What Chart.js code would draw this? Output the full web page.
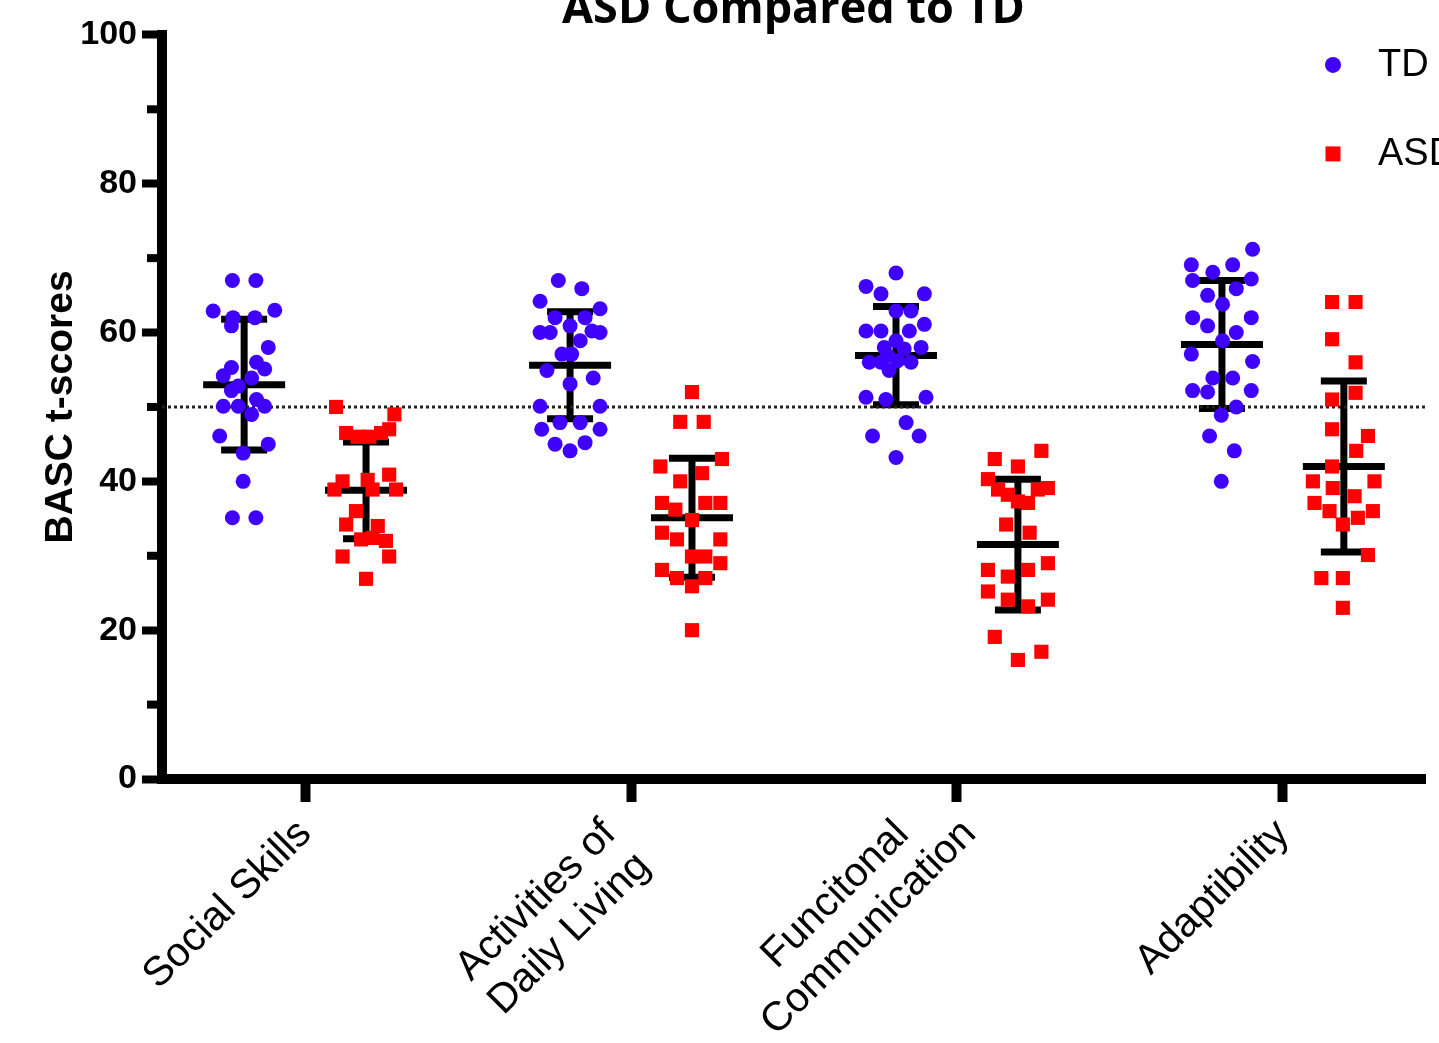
<!DOCTYPE html>
<html>
<head>
<meta charset="utf-8">
<title>ASD Compared to TD</title>
<script src="https://cdn.jsdelivr.net/npm/chart.js@4.4.1/dist/chart.umd.min.js"></script>
<style>
  html, body { margin: 0; padding: 0; background: #fff; overflow: hidden; }
  #wrap { position: absolute; left: 0; top: -21px; }
</style>
</head>
<body>
<div id="wrap"><canvas id="chart" width="1500" height="1100"></canvas></div>
<script>
// categories on the x axis (multi-line labels as arrays)
const categories = [
    ['Social Skills'],
    ['Activities of', 'Daily Living'],
    ['Funcitonal', 'Communication'],
    ['Adaptibility']
];
const yTicks = [0, 20, 40, 60, 80, 100];
const referenceLine = 50;

// individual t-scores per category, TD group
const tdScores = [
    [67, 67, 62.9, 63, 62, 62, 60.9, 58, 55.3, 56, 55.1, 54.2, 53.9, 52.8, 52.2, 50.1, 50.1, 51, 50.1, 49, 46.1, 45, 43.8, 40, 35.1, 35.1],
    [67, 65.9, 64.2, 63.2, 62, 62, 60.9, 60, 60, 60.2, 60, 58.9, 57.1, 57.1, 54.9, 53.9, 53.1, 50.1, 50.1, 47.9, 47.9, 47, 47, 45, 45.2, 44.1],
    [68, 66.2, 65.2, 65.2, 62.9, 62.9, 61.1, 60.2, 60.2, 60.2, 58.9, 58, 58, 57.8, 56.9, 56, 56, 56, 56.2, 54.9, 51.3, 51, 51.3, 47.9, 46.1, 46.1, 43.2],
    [71.2, 69.1, 69.1, 68.1, 67, 67.2, 65.9, 65, 63.8, 62, 62, 60.9, 60, 58.9, 57.1, 56.1, 53.9, 53.9, 52.2, 52, 52.2, 50, 48.9, 46.1, 44.1, 40]
];
// scatter spread of each TD point inside its column (category units)
const tdJitter = [
    [-0.036, 0.036, -0.095, 0.094, -0.034, 0.033, -0.039, 0.074, -0.039, 0.038, 0.063, -0.064, 0.023, -0.018, -0.039, -0.064, -0.018, 0.038, 0.063, 0.023, -0.075, 0.074, -0.003, -0.003, -0.036, 0.036],
    [-0.036, 0.036, -0.092, 0.092, -0.046, 0.046, 0, -0.092, -0.061, 0.067, 0.092, 0.031, -0.025, 0.005, -0.071, 0.071, 0, -0.092, 0.092, -0.031, 0.031, -0.087, 0.092, -0.046, 0.046, 0],
    [0, -0.092, -0.046, 0.087, 0, 0.046, 0.087, -0.092, -0.046, 0.041, 0, -0.036, 0.077, 0.025, -0.026, -0.082, -0.046, 0.046, 0.005, -0.021, -0.092, -0.031, 0.092, 0.031, -0.072, 0.071, 0],
    [0.094, -0.094, 0.033, -0.028, -0.090, 0.090, 0.044, -0.044, 0.002, -0.090, 0.090, -0.044, 0.044, 0.002, -0.094, 0.094, -0.028, 0.033, -0.090, -0.044, 0.090, 0.044, -0.002, -0.038, 0.038, -0.002]
];

// individual t-scores per category, ASD group
const asdScores = [
    [50, 49, 46.5, 46, 46, 46.5, 47, 40.9, 40, 40.2, 38.9, 38.9, 38.9, 36, 34.2, 34, 32.2, 32.4, 32, 29.9, 29.9, 26.9],
    [52, 48, 48, 42, 43, 41.1, 40, 37.1, 36.2, 37.1, 37.1, 34.8, 33.1, 32.2, 32.2, 29.9, 29.9, 29, 28.1, 27, 27, 25.9, 20],
    [44.1, 43, 42, 40.3, 38.9, 38.2, 37.3, 37.1, 39.1, 38.9, 34.2, 33.1, 28.1, 27.2, 28.1, 29, 25.2, 24.1, 23.2, 24.1, 19.1, 17.1, 16],
    [64.1, 64.1, 59.1, 56, 51, 51.9, 47, 46.1, 44.1, 42, 40, 40, 39.1, 38, 37.1, 36, 36, 35.1, 34.2, 30.1, 27, 27, 23]
];
const asdJitter = [
    [-0.092, 0.087, -0.061, -0.026, 0.010, 0.046, 0.071, 0.071, -0.072, 0.005, -0.097, 0.020, 0.092, -0.031, -0.061, 0.036, -0.015, 0.020, 0.061, -0.072, 0.071, 0],
    [0, -0.036, 0.036, -0.097, 0.092, 0.031, -0.036, -0.092, -0.051, 0.041, 0.087, 0, -0.092, -0.046, 0.087, 0, 0.041, 0.087, -0.092, -0.046, 0.041, 0, 0],
    [0.072, -0.071, 0, -0.092, -0.061, -0.031, 0, 0.031, 0.092, 0.061, -0.036, 0.036, -0.092, -0.031, 0.031, 0.092, -0.092, -0.031, 0.031, 0.092, -0.071, 0.072, 0],
    [-0.036, 0.036, -0.036, 0.036, -0.036, 0.036, -0.036, 0.074, 0.038, -0.036, -0.095, 0.094, -0.034, 0.033, -0.090, -0.044, 0.089, 0.043, -0.003, 0.074, -0.069, -0.003, -0.003]
];

// mean and SD per category
const tdMeans = [53, 55.6, 56.9, 58.4];
const tdSD = [8.8, 7.2, 6.6, 8.6];
const asdMeans = [38.8, 35.1, 31.5, 42];
const asdSD = [6.5, 8, 8.8, 11.5];

const TD_COLOR = '#4000ff';
const ASD_COLOR = '#ff0000';
const GROUP_OFFSET = 0.187;   // TD left of the tick, ASD right of it
const X_MIN = -0.439, X_MAX = 3.436;
const FONT = '"Liberation Sans", Arial, sans-serif';

function buildPoints(scores, jitter, shift) {
    const pts = [];
    scores.forEach((col, i) => {
        col.forEach((v, j) => pts.push({ x: i + shift + jitter[i][j], y: v }));
    });
    return pts;
}

// mean line + SD whiskers, drawn under the points
const meanSdBars = {
    id: 'meanSdBars',
    beforeDatasetsDraw(chart) {
        const { ctx, scales: { x, y } } = chart;
        ctx.save();
        ctx.strokeStyle = '#000';
        ctx.lineWidth = 7;
        [[tdMeans, tdSD, -GROUP_OFFSET], [asdMeans, asdSD, GROUP_OFFSET]].forEach(([means, sds, off]) => {
            means.forEach((m, i) => {
                const cx = x.getPixelForValue(i + off);
                const yM = y.getPixelForValue(m);
                const yHi = y.getPixelForValue(m + sds[i]);
                const yLo = y.getPixelForValue(m - sds[i]);
                ctx.beginPath();
                ctx.moveTo(cx, yHi); ctx.lineTo(cx, yLo);
                ctx.moveTo(cx - 23, yHi); ctx.lineTo(cx + 23, yHi);
                ctx.moveTo(cx - 23, yLo); ctx.lineTo(cx + 23, yLo);
                ctx.moveTo(cx - 41, yM); ctx.lineTo(cx + 41, yM);
                ctx.stroke();
            });
        });
        ctx.restore();
    }
};

// rotated category labels, lines centred on each other (as in the original)
const categoryLabels = {
    id: 'categoryLabels',
    afterDraw(chart) {
        const { ctx, chartArea, scales: { x } } = chart;
        const size = 41, gap = 47, cap = 0.72 * size, s = Math.SQRT1_2;
        ctx.save();
        ctx.font = size + 'px ' + FONT;
        ctx.fillStyle = '#000';
        ctx.textAlign = 'right';
        ctx.textBaseline = 'middle';
        categories.forEach((lines, i) => {
            const widths = lines.map(l => ctx.measureText(l).width);
            const maxW = Math.max(...widths);
            const geo = lines.map((l, k) => ({ u: -(maxW - widths[k]) / 2, v: (k - (lines.length - 1) / 2) * gap }));
            const top = Math.min(...geo.map(g => s * (-g.u + g.v - cap / 2)));
            ctx.save();
            ctx.translate(x.getPixelForValue(i) - (lines.length > 1 ? 4 : 0), chartArea.bottom + 38 - top);
            ctx.rotate(-Math.PI / 4);
            geo.forEach((g, k) => ctx.fillText(lines[k], g.u, g.v));
            ctx.restore();
        });
        ctx.restore();
    }
};

// minor y ticks and the legend in the top right corner
const axisExtras = {
    id: 'axisExtras',
    afterDraw(chart) {
        const { ctx, chartArea, scales: { y } } = chart;
        ctx.save();
        ctx.strokeStyle = '#000';
        ctx.lineWidth = 8;
        for (let v = 10; v < 100; v += 20) {
            const py = y.getPixelForValue(v);
            ctx.beginPath();
            ctx.moveTo(chartArea.left - 15, py);
            ctx.lineTo(chartArea.left, py);
            ctx.stroke();
        }
        const mx = chartArea.right - 92;
        const rows = [chartArea.top + 30, chartArea.top + 119];
        ctx.font = '38px ' + FONT;
        ctx.textBaseline = 'middle';
        ctx.textAlign = 'left';
        chart.data.datasets.filter(d => d.type === 'scatter').forEach((d, i) => {
            const my = rows[i];
            ctx.fillStyle = d.backgroundColor;
            if (d.pointStyle === 'rect') {
                ctx.fillRect(mx - 7.5, my - 7.5, 15, 15);
            } else {
                ctx.beginPath();
                ctx.arc(mx, my, 8, 0, Math.PI * 2);
                ctx.fill();
            }
            ctx.fillStyle = '#000';
            ctx.fillText(d.label, mx + 45, my + 1);
        });
        ctx.restore();
    }
};

Chart.defaults.font.family = FONT;
Chart.defaults.color = '#000';

const ctx = document.getElementById('chart').getContext('2d');
const chart = new Chart(ctx, {
    data: {
        datasets: [
            {
                type: 'scatter',
                label: 'TD',
                data: buildPoints(tdScores, tdJitter, -GROUP_OFFSET),
                pointStyle: 'circle',
                pointRadius: 7.5,
                backgroundColor: TD_COLOR,
                borderWidth: 0,
                order: 2
            },
            {
                type: 'scatter',
                label: 'ASD',
                data: buildPoints(asdScores, asdJitter, GROUP_OFFSET),
                pointStyle: 'rect',
                pointRadius: 10,
                backgroundColor: ASD_COLOR,
                borderWidth: 0,
                order: 1
            },
            {
                type: 'line',
                label: 'reference',
                data: [{ x: X_MIN, y: referenceLine }, { x: X_MAX, y: referenceLine }],
                borderColor: '#222',
                borderWidth: 3,
                borderDash: [3, 3],
                pointRadius: 0,
                order: 10
            }
        ]
    },
    options: {
        responsive: false,
        animation: false,
        events: [],
        layout: { padding: { left: 0, right: 75, top: 0, bottom: 0 } },
        plugins: {
            legend: { display: false },
            tooltip: { enabled: false },
            title: {
                display: true,
                text: 'ASD Compared to TD',
                fullSize: false,
                color: '#000',
                font: { family: '"Open Sans", sans-serif', weight: 'bold', size: 45, lineHeight: 1.1 },
                padding: { top: 6, bottom: 0.4 }
            }
        },
        scales: {
            x: {
                type: 'linear',
                min: X_MIN,
                max: X_MAX,
                afterBuildTicks: (scale) => { scale.ticks = categories.map((_, i) => ({ value: i })); },
                afterFit: (scale) => { scale.height = 300; },
                ticks: { display: false },
                grid: { drawOnChartArea: false, tickLength: 23, tickWidth: 10, tickColor: '#000' },
                border: { width: 10, color: '#000' }
            },
            y: {
                min: 0,
                max: 100,
                afterBuildTicks: (scale) => { scale.ticks = yTicks.map(v => ({ value: v })); },
                afterFit: (scale) => { scale.width = 162; },
                ticks: { padding: 5, font: { size: 34, weight: 'bold' } },
                grid: { drawOnChartArea: false, tickLength: 20, tickWidth: 8, tickColor: '#000' },
                border: { width: 10, color: '#000' },
                title: {
                    display: true,
                    text: 'BASC t-scores',
                    font: { size: 39, weight: 'bold', lineHeight: 1.2 },
                    padding: { top: 38, bottom: 0 }
                }
            }
        }
    },
    plugins: [meanSdBars, categoryLabels, axisExtras]
});
</script>
</body>
</html>
